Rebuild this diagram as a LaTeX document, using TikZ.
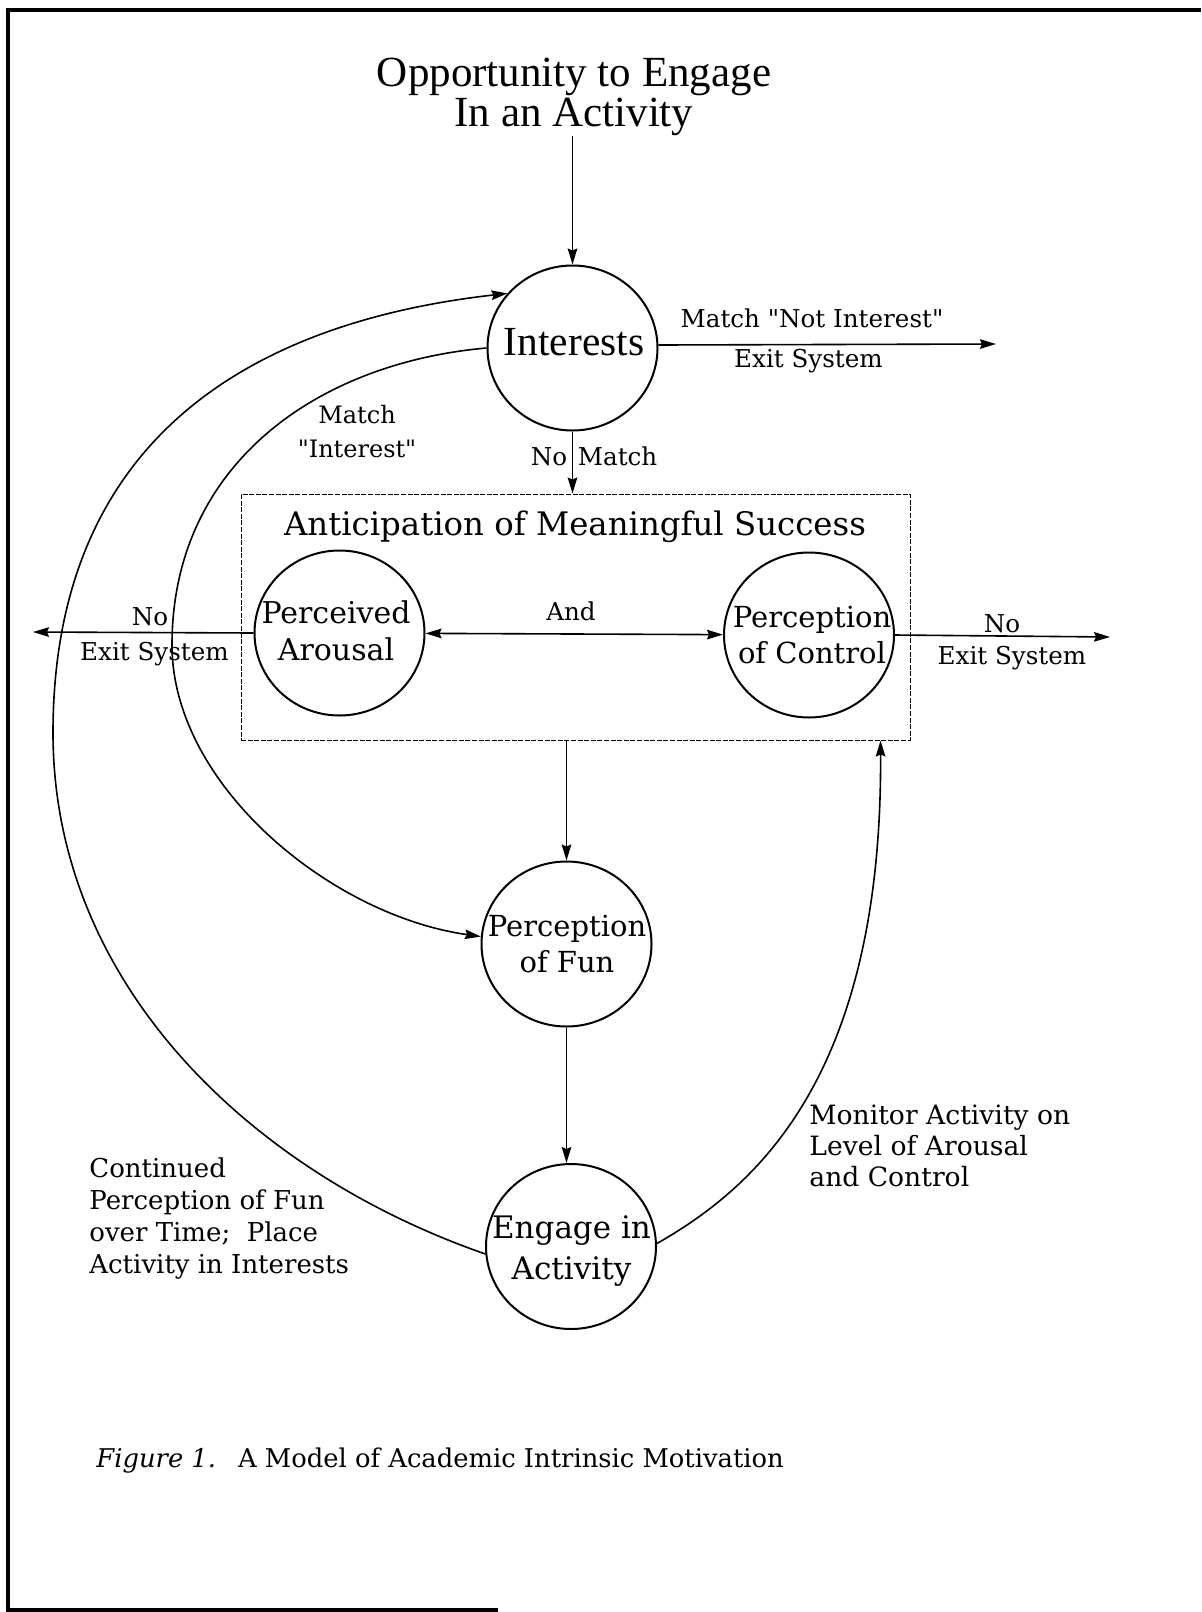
\documentclass[tikz,border=0pt]{standalone}
\usepackage{fontspec}
\setmainfont{Liberation Serif}
\newfontfamily\schol{DejaVu Serif}
\usetikzlibrary{arrows.meta,shapes.geometric}

\begin{document}
\begin{tikzpicture}[x=0.5pt,y=-0.5pt,
  bubble/.style={draw, ellipse, line width=1pt, minimum width=85pt,
                 minimum height=82.5pt, inner sep=0pt},
  word/.style={inner sep=0pt, align=center},
  tip/.style={-{Stealth[length=8pt,width=4.8pt,inset=1pt]}, line width=0.8pt},
  bothtips/.style={{Stealth[length=8pt,width=4.8pt,inset=1pt]}-{Stealth[length=8pt,width=4.8pt,inset=1pt]},
                   line width=0.8pt},
  frameline/.style={line width=1.6pt},
  groupbox/.style={draw, line width=0.5pt, dash pattern=on 2.5pt off 0.8pt,
                   minimum width=334.5pt, minimum height=123pt, inner sep=0pt},
  small/.style={font=\schol\fontsize{12.3}{15}\selectfont},
]
\useasboundingbox (0,0) rectangle (1201,1612);

% page frame
\draw[frameline] (1201,10) -- (8,10) -- (8,1612);
\draw[frameline] (8,1610) -- (498,1610);

% title and the interest filter
\node[word, font=\fontsize{21.5}{20}\selectfont] (opp) at (574,97)
  {Opportunity to Engage\\In an Activity};
\node[bubble] (int) at (572.5,348) {};
\node[word, font=\fontsize{20.7}{24}\selectfont] (int-t) at (574,342) {Interests};
\draw[tip] (opp.south -| int.north) -- (int.north);

\coordinate (xr1) at (996,344);
\draw[tip] (int.2) -- (xr1);
\node[word, small, anchor=base] (mni) at (812,327) {Match "Not Interest"};
\node[word, small, anchor=base] (xs1) at (808.5,367) {Exit System};

% anticipation group
\node[groupbox] (ams) at (575.5,617) {};
\node[word, font=\schol\fontsize{16.2}{19}\selectfont, anchor=base] (ams-t) at (575,535)
  {Anticipation of Meaningful Success};
\draw[tip] (int.south) -- (int.south |- ams.north);
\node[word, small, anchor=base east] (nm-no) at (567.5,465) {No};
\node[word, small, anchor=base west] (nm-match) at (577.5,465) {Match};

\node[bubble] (pa) at (339.5,633) {};
\node[word, font=\schol\fontsize{15}{18.5}\selectfont] (pa-t) at (336,631) {Perceived\\Arousal};
\node[bubble] (pc) at (809,635) {};
\node[word, font=\schol\fontsize{14.5}{18}\selectfont] (pc-t) at (812,635) {Perception\\of Control};
\draw[bothtips] (pa) -- (pc);
\node[word, small, anchor=base] (and) at (571,620) {And};

\coordinate (xl) at (33,632);
\draw[tip] (pa.west) -- (xl);
\node[word, small, anchor=base] (nol) at (150,625) {No};
\node[word, small, anchor=base] (xsl) at (154.5,660) {Exit System};

\coordinate (xr2) at (1110,637);
\draw[tip] (pc.east) -- (xr2);
\node[word, small, anchor=base] (nor) at (1002,632) {No};
\node[word, small, anchor=base] (xsr) at (1012,664) {Exit System};

% fun and engagement
\node[bubble] (fun) at (566.5,944) {};
\node[word, font=\schol\fontsize{14.5}{18}\selectfont] (fun-t) at (567,944) {Perception\\of Fun};
\draw[tip] (ams.south -| fun.north) -- (fun.north);

\node[bubble] (eng) at (571,1246.5) {};
\node[word, font=\schol\fontsize{15.5}{20.5}\selectfont] (eng-t) at (571.5,1251) {Engage in\\Activity};
\draw[tip] (fun.south) -- (fun.south |- eng.north);

% feedback loops
\coordinate (outer) at (53,733);
\draw[tip] (eng.185) .. controls +(-236,-82) and +(0,250) .. (outer)
  .. controls +(0,-300) and +(-248.5,28) .. (int.140);

\coordinate (inner) at (172,645);
\draw[tip] (int.180) .. controls +(-170,15) and +(0,-180) .. (inner)
  .. controls +(0,140) and +(-150,-21) .. (fun.175);

\draw[tip] (eng.2) .. controls +(95.5,-54.6) and +(2,340) .. ([xshift=-15pt]ams.south east);

% loop labels
\node[word, font=\schol\fontsize{12}{17}\selectfont] (mi) at (357,432) {Match\\"Interest"};
\node[word, align=left, anchor=west, font=\schol\fontsize{13}{16}\selectfont] (cont) at (89,1218)
  {Continued\\Perception of Fun\\over Time;\ \ Place\\Activity in Interests};
\node[word, align=left, anchor=west, font=\schol\fontsize{13.3}{15.5}\selectfont] (mon) at (809,1146)
  {Monitor Activity on\\Level of Arousal\\and Control};

% caption
\node[word, anchor=base west, font=\schol\fontsize{12.9}{16}\selectfont] (cap) at (96,1467)
  {\textit{Figure 1.}\hspace{11pt}A Model of Academic Intrinsic Motivation};
\end{tikzpicture}
\end{document}
